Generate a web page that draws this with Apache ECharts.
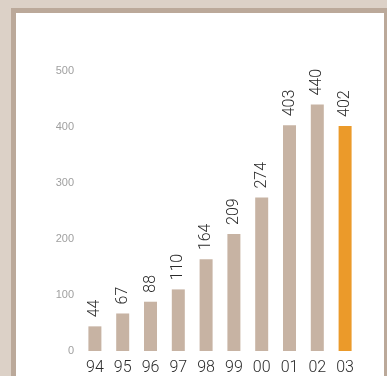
<!DOCTYPE html>
<html>
<head>
<meta charset="utf-8">
<script src="https://cdn.jsdelivr.net/npm/echarts@6/dist/echarts.min.js"></script>
<style>
  html, body { margin: 0; padding: 0; background: #dcd1c7; }
  #frame {
    position: absolute; left: 11px; top: 8px; width: 368px; height: 380px;
    border: 5px solid #bba99a; background: #ffffff;
  }
  #myChart { position: absolute; left: 0; top: 0; width: 387px; height: 376px; }
</style>
</head>
<body>
<div id="frame"></div>
<div id="myChart"></div>
<script>
// years and values
var years = ["94", "95", "96", "97", "98", "99", "00", "01", "02", "03"];
var values = [44, 67, 88, 110, 164, 209, 274, 403, 440, 402];
var yTicks = [0, 100, 200, 300, 400, 500];

var beige = "#c7b3a3";
var orange = "#eb9a2a";

var barData = values.map(function(v, i) {
  return {
    value: v,
    itemStyle: { color: i === values.length - 1 ? orange : beige }
  };
});

var myChart = echarts.init(document.getElementById("myChart"));
myChart.setOption({
  animation: false,
  grid: { left: 81, right: 28, top: 71, bottom: 25 },
  xAxis: {
    type: "category",
    data: years,
    axisLine: { show: false },
    axisTick: { show: false },
    axisLabel: {
      color: "#2a2a2a",
      fontSize: 16,
      fontFamily: "Roboto",
      fontWeight: 300,
      margin: 9
    }
  },
  yAxis: {
    type: "value",
    min: yTicks[0],
    max: yTicks[yTicks.length - 1],
    interval: 100,
    splitLine: { show: false },
    axisLine: { show: false },
    axisTick: { show: false },
    axisLabel: {
      color: "#a0a0a0",
      fontSize: 11,
      fontFamily: "Liberation Sans",
      margin: 7
    }
  },
  series: [
    {
      type: "bar",
      data: barData,
      barWidth: 13,
      label: {
        show: true,
        position: "top",
        rotate: 90,
        align: "left",
        verticalAlign: "middle",
        distance: 9,
        color: "#2a2a2a",
        fontSize: 16,
        fontFamily: "Roboto",
        fontWeight: 300
      }
    }
  ]
});
</script>
</body>
</html>
